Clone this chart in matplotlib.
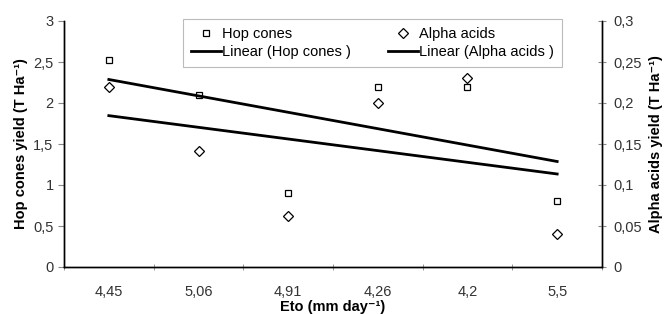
import matplotlib
matplotlib.use("Agg")
import matplotlib.pyplot as plt
import numpy as np

plt.rcParams["font.family"] = ["Liberation Sans", "DejaVu Sans"]

# data
eto_labels = ["4,45", "5,06", "4,91", "4,26", "4,2", "5,5"]
hop_cones = [2.52, 2.10, 0.90, 2.20, 2.20, 0.80]
alpha_acids = [0.220, 0.142, 0.062, 0.200, 0.230, 0.040]

x = np.arange(1, len(eto_labels) + 1)
fs = 10.5
sup = "\u207b\u00b9"

fig = plt.figure(figsize=(6.67, 3.14), dpi=100)
ax = fig.add_axes([64 / 667, 47 / 314, 538 / 667, 246 / 314])
ax2 = ax.twinx()

# linear trendlines
p1 = np.polyfit(x, hop_cones, 1)
p2 = np.polyfit(x, alpha_acids, 1)

h1, = ax.plot(x, hop_cones, "s", ms=3.8, mfc="white", mec="black", mew=0.9,
              linestyle="none", label="Hop cones")
h2, = ax2.plot(x, alpha_acids, "D", ms=5.5, mfc="white", mec="black", mew=0.9,
               linestyle="none", label="Alpha acids")
h3, = ax.plot(x, np.polyval(p1, x), color="black", lw=2.0, label="Linear (Hop cones )")
h4, = ax2.plot(x, np.polyval(p2, x), color="black", lw=2.0, label="Linear (Alpha acids )")

ax.set_xlim(0.5, 6.5)
ax.set_ylim(0, 3)
ax2.set_ylim(0, 0.3)

ax.set_yticks(np.arange(0, 3.01, 0.5))
ax.set_yticklabels(["0", "0,5", "1", "1,5", "2", "2,5", "3"])
ax2.set_yticks(np.arange(0, 0.301, 0.05))
ax2.set_yticklabels(["0", "0,05", "0,1", "0,15", "0,2", "0,25", "0,3"])

ax.set_xticks(x)
ax.set_xticklabels(eto_labels)
ax.set_xticks(np.arange(0.5, 6.6, 1), minor=True)
ax.tick_params(axis="x", which="major", length=0, pad=13, labelsize=fs, colors="#333333")
ax.tick_params(axis="x", which="minor", length=4, direction="inout", color="#888888")
ax.tick_params(axis="y", length=4, direction="out", color="#888888", labelsize=fs,
               labelcolor="#333333")
ax2.tick_params(axis="y", length=6, direction="inout", color="#888888", labelsize=fs,
                labelcolor="#333333", pad=5)

for a in (ax, ax2):
    a.spines["top"].set_visible(False)
    for s in ("left", "right", "bottom"):
        a.spines[s].set_linewidth(1.0)

ax.set_xlabel("Eto (mm day" + sup + ")", fontweight="bold", fontsize=fs, labelpad=1)
ax.set_ylabel("Hop cones yield (T Ha" + sup + ")", fontweight="bold", fontsize=fs,
              labelpad=4)
ax2.set_ylabel("Alpha acids yield (T Ha" + sup + ")", fontweight="bold", fontsize=fs,
               rotation=90, labelpad=5)

leg = ax2.legend([h1, h3, h2, h4],
                 ["Hop cones", "Linear (Hop cones )", "Alpha acids", "Linear (Alpha acids )"],
                 ncol=2, loc="upper left", bbox_to_anchor=(119 / 538, 1.008),
                 fontsize=fs, frameon=True, fancybox=False, borderpad=0.55,
                 handlelength=2.05, handletextpad=0.1, columnspacing=2.5,
                 labelspacing=0.27, borderaxespad=0)
leg.get_frame().set_edgecolor("#aaaaaa")
leg.get_frame().set_linewidth(0.8)

fig.savefig("out.png", dpi=100)
